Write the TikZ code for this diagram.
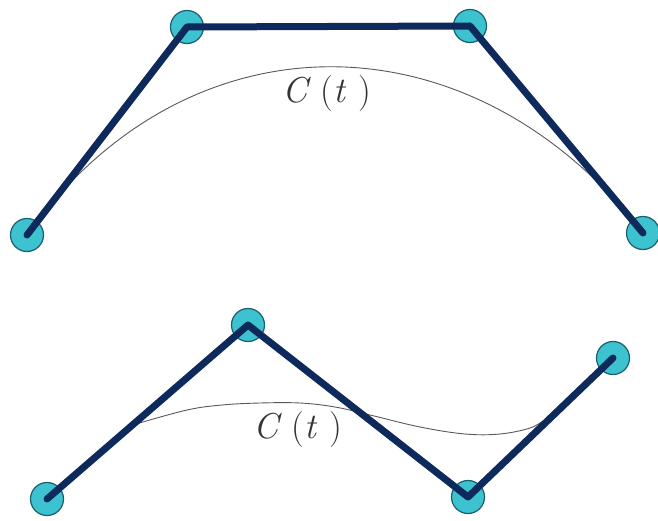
\documentclass[tikz,border=0pt]{standalone}
\usepackage{fontspec}
\definecolor{ptfill}{HTML}{3CC3CF}
\definecolor{ptedge}{HTML}{1B5E6E}
\definecolor{polyc}{HTML}{0E2A5C}
\tikzset{ctrl/.style={inner sep=0pt, outer sep=0pt, circle, minimum size=33pt, fill=ptfill, draw=ptedge, line width=1.2pt},
poly/.style={polyc, line width=7pt, line join=round, line cap=round},
crv/.style={black!65, line width=0.9pt},
lbl/.style={font=\fontsize{36}{42}\selectfont, text=black!80}}
\newcommand{\curvelabel}{\textit{C}\hspace{9pt}(\hspace{1pt}\textit{t}\hspace{12pt})}

\begin{document}
\begin{tikzpicture}[x=1pt,y=-1pt]
\useasboundingbox (0,0) rectangle (658,521);
\foreach \n/\x/\y in {u0/27/235,u1/187/27,u2/470/26,u3/643/233,v0/47/499,v1/248/325,v2/468/497,v3/613/358}{
\coordinate (\n) at (\x,\y);
}
% upper curve
\draw[crv] (u0) .. controls (187,11) and (470,11) .. (u3);
% lower curve
\draw[crv] plot[smooth, tension=0.6] coordinates {(136,424) (187,410) (222,405) (260,403) (300,403) (335,407) (370,415) (420,427) (465,434) (500,434) (530,428) (546,419)};
\foreach \n in {u0,u1,u2,u3,v0,v1,v2,v3}{
\node[ctrl] (p\n) at (\n) {};
}
\draw[poly] (u0)--(u1)--(u2)--(u3);
\draw[poly] (v0)--(v1)--(v2)--(v3);
\node[lbl] (cu) at (327,94) {\curvelabel};
\node[lbl] (cv) at (298,430) {\curvelabel};
\end{tikzpicture}
\end{document}
